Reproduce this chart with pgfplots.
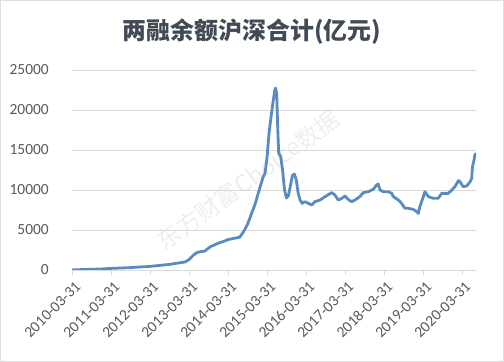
\documentclass[border=0pt]{standalone}
\usepackage{pgfplots}
\pgfplotsset{compat=1.18}
\usepackage{fontspec}
\setmainfont{Carlito}
\newfontfamily\cjk{Noto Sans CJK SC}
\definecolor{linecol}{RGB}{88,140,192}
\definecolor{titlecol}{RGB}{66,74,86}
\definecolor{labcol}{RGB}{89,89,89}
\definecolor{gridcol}{RGB}{217,217,217}
\definecolor{wmcol}{RGB}{238,238,238}
\definecolor{framecol}{RGB}{222,222,222}
\pgfplotstableread{
t v
0.00 10
0.30 60
0.75 130
1.00 200
1.50 300
1.75 380
2.00 450
2.50 700
2.75 895
2.90 1000
3.00 1300
3.10 1800
3.20 2170
3.30 2300
3.40 2350
3.55 2920
3.75 3350
3.90 3600
4.00 3800
4.10 3900
4.20 4000
4.30 4100
4.40 4790
4.50 5700
4.60 7000
4.70 8300
4.80 10000
4.90 11600
4.95 12100
5.00 14000
5.05 17000
5.10 19000
5.15 20800
5.20 22500
5.22 22730
5.25 22000
5.27 18500
5.30 14600
5.35 14200
5.40 12500
5.45 10000
5.50 9000
5.55 9300
5.60 10500
5.65 11800
5.70 12000
5.75 11300
5.80 9600
5.85 8750
5.90 8330
5.95 8500
6.00 8500
6.06 8330
6.15 8125
6.23 8540
6.36 8750
6.49 9170
6.66 9670
6.74 9375
6.83 8750
6.92 8960
7.00 9250
7.08 8830
7.17 8540
7.26 8750
7.38 9170
7.47 9670
7.60 9790
7.73 10100
7.81 10625
7.85 10750
7.90 10000
7.98 9790
8.11 9790
8.20 9580
8.24 9170
8.37 8750
8.45 8330
8.54 7710
8.62 7710
8.75 7580
8.84 7290
8.88 7080
8.92 7920
9.01 9170
9.05 9790
9.14 9170
9.26 8960
9.39 8960
9.48 9580
9.65 9580
9.74 10000
9.82 10420
9.91 11170
9.95 11040
10.03 10420
10.12 10500
10.21 11040
10.25 11460
10.27 12920
10.31 13750
10.33 14375
10.36 14600
}\margindata
\begin{document}
\begin{tikzpicture}
\useasboundingbox (0,0) rectangle (504bp,362bp);
\draw[framecol, line width=1bp] (0.5bp,0.5bp) rectangle (503.5bp,361.5bp);
\node[font=\cjk\bfseries\fontsize{24}{27}\selectfont, text=titlecol] at (252bp,330bp) {两融余额沪深合计(亿元)};
\node[rotate=36, text=wmcol, font=\cjk\fontsize{24}{26}\selectfont] at (248bp,182bp) {东方财富Choice数据};
\begin{axis}[
  at={(72bp,92bp)}, anchor=south west,
  scale only axis, width=404bp, height=200bp,
  xmin=0, xmax=10.36, ymin=0, ymax=25000,
  axis x line*=bottom, axis y line*=left,
  y axis line style={draw=none},
  x axis line style={draw=gridcol, line width=0.8bp},
  ytick={0,5000,10000,15000,20000,25000},
  ytick style={draw=none},
  ymajorgrids, grid style={draw=gridcol, line width=0.8bp},
  xtick={0,1,2,3,4,5,6,7,8,9,10},
  xticklabels={2010-03-31,2011-03-31,2012-03-31,2013-03-31,2014-03-31,2015-03-31,2016-03-31,2017-03-31,2018-03-31,2019-03-31,2020-03-31},
  xtick style={draw=gridcol, line width=0.8bp},
  tick align=outside, major tick length=5bp,
  scaled y ticks=false,
  /pgf/number format/.cd, 1000 sep={}, assume math mode=true,
  /pgfplots/.cd,
  ticklabel style={font=\fontsize{15.5}{18}\selectfont, text=labcol},
  yticklabel style={inner xsep=0pt, xshift=-18bp},
  xticklabel style={xshift=6bp, yshift=-9bp, rotate=45, anchor=east, inner sep=0pt},
]
\addplot[linecol, line width=2.8bp, line join=round] table[x=t, y=v] {\margindata};
\end{axis}
\end{tikzpicture}
\end{document}
